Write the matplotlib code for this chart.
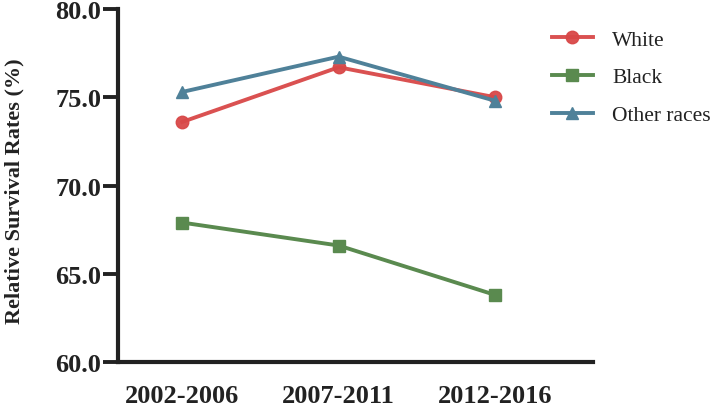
import matplotlib
matplotlib.use("Agg")
import matplotlib.pyplot as plt

periods = ["2002-2006", "2007-2011", "2012-2016"]
white = [73.6, 76.7, 75.0]
black = [67.9, 66.6, 63.8]
other = [75.3, 77.3, 74.8]
yticks = [60.0, 65.0, 70.0, 75.0, 80.0]

plt.rcParams['font.family'] = ['Liberation Serif', 'DejaVu Serif']

fig = plt.figure(figsize=(7.16, 4.10), dpi=100)
ax = fig.add_axes([0.165, 0.1146, 0.6634, 0.861])

x = list(range(len(periods)))
ax.plot(x, white, color="#d84848", lw=2.8, marker="o", ms=9, label="White", alpha=0.95)
ax.plot(x, black, color="#5a8a4f", lw=2.8, marker="s", ms=8, label="Black")
ax.plot(x, other, color="#4f8199", lw=2.8, marker="^", ms=9, label="Other races")

ax.set_xlim(-0.409, 2.626)
ax.set_ylim(60, 80)
ax.set_yticks(yticks)
ax.set_yticklabels([f"{v:.1f}" for v in yticks], fontsize=19, fontweight="bold", color="#222222")
ax.set_xticks(x)
ax.set_xticklabels(periods, fontsize=19, fontweight="bold", color="#222222")
ax.tick_params(axis="x", length=0, pad=16)
ax.tick_params(axis="y", length=11, width=2.8, color="#222222", pad=1)
for s in ["top", "right"]:
    ax.spines[s].set_visible(False)
for s in ["left", "bottom"]:
    ax.spines[s].set_linewidth(3)
    ax.spines[s].set_color("#222222")
fig.text(14 / 716, 0.534, "Relative Survival Rates (%)", rotation=90, ha="center", va="center",
         fontsize=16, fontweight="bold", color="#222222")

leg = fig.legend(loc="upper left", bbox_to_anchor=(0.771, 0.9255), frameon=False, fontsize=15.5,
                 handlelength=1.9, labelspacing=0.82, handletextpad=0.9, borderaxespad=0, borderpad=0)
for t in leg.get_texts():
    t.set_color("#222222")

fig.savefig("out.png", dpi=100)
